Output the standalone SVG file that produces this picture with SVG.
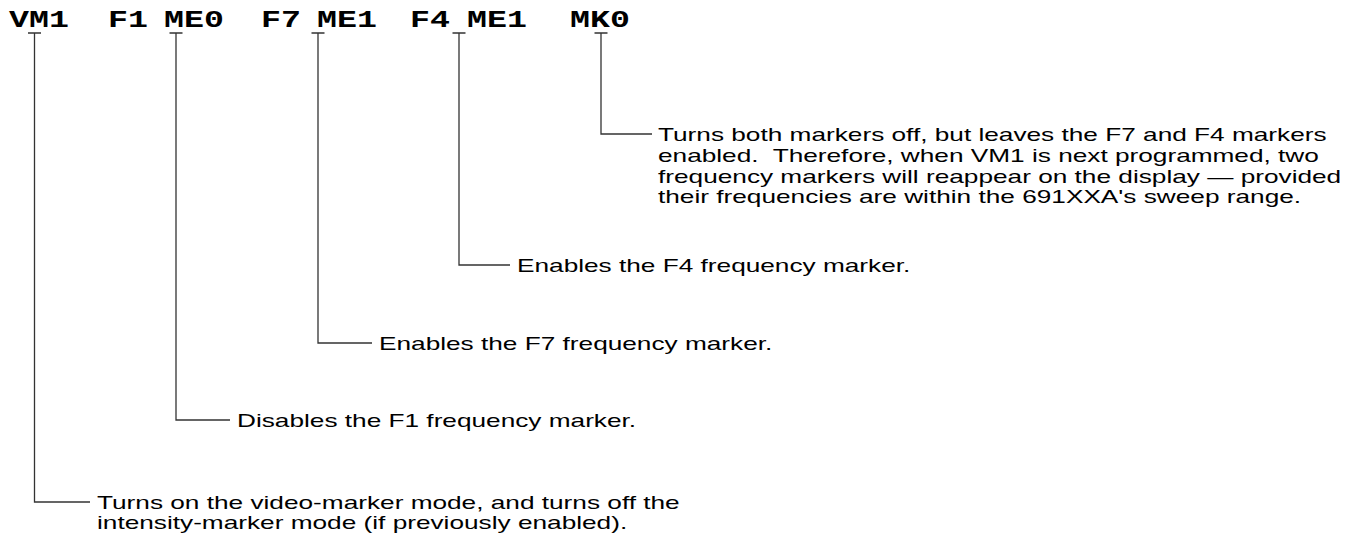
<svg xmlns="http://www.w3.org/2000/svg" width="1351" height="533" viewBox="0 0 1351 533">
<style>
.cmd{font-family:"Liberation Mono","Courier New",monospace;font-weight:bold;font-size:23.6px;fill:#000}
.lbl{font-family:"Liberation Sans",Arial,Helvetica,sans-serif;font-size:18.6px;fill:#000;white-space:pre}
.ln{stroke:#333;stroke-width:1.3;fill:none}
</style>
<rect width="1351" height="533" fill="#fff"/>
<g id="commands">
<text class="cmd" transform="translate(9,27) scale(1.41,1)">VM1</text>
<text class="cmd" transform="translate(108,27) scale(1.41,1)">F1</text>
<text class="cmd" transform="translate(164,27) scale(1.41,1)">ME0</text>
<text class="cmd" transform="translate(261,27) scale(1.41,1)">F7</text>
<text class="cmd" transform="translate(317,27) scale(1.41,1)">ME1</text>
<text class="cmd" transform="translate(410,27) scale(1.41,1)">F4</text>
<text class="cmd" transform="translate(467,27) scale(1.41,1)">ME1</text>
<text class="cmd" transform="translate(570,27) scale(1.41,1)">MK0</text>
</g>
<g id="connectors">
<path class="ln" d="M28,33H41M34.5,33V502H90"/>
<path class="ln" d="M169.5,33H182.5M176,33V420H230"/>
<path class="ln" d="M311.5,33H324.5M318,33V343H372"/>
<path class="ln" d="M452.5,33H465.5M459,33V265H510"/>
<path class="ln" d="M594.5,33H607.5M601,33V134H652"/>
</g>
<g id="note-mk0">
<text class="lbl" transform="translate(658,141) scale(1.41,1)">Turns both markers off, but leaves the F7 and F4 markers</text>
<text class="lbl" transform="translate(658,161.8) scale(1.41,1)">enabled.  Therefore, when VM1 is next programmed, two</text>
<text class="lbl" transform="translate(658,182.6) scale(1.41,1)">frequency markers will reappear on the display — provided</text>
<text class="lbl" transform="translate(658,203.4) scale(1.41,1)">their frequencies are within the 691XXA's sweep range.</text>
</g>
<g id="note-f4">
<text class="lbl" transform="translate(517,272) scale(1.41,1)">Enables the F4 frequency marker.</text>
</g>
<g id="note-f7">
<text class="lbl" transform="translate(379,350) scale(1.41,1)">Enables the F7 frequency marker.</text>
</g>
<g id="note-me0">
<text class="lbl" transform="translate(237,427) scale(1.41,1)">Disables the F1 frequency marker.</text>
</g>
<g id="note-vm1">
<text class="lbl" transform="translate(97,509) scale(1.41,1)">Turns on the video-marker mode, and turns off the</text>
<text class="lbl" transform="translate(97,529) scale(1.41,1)">intensity-marker mode (if previously enabled).</text>
</g>
</svg>
